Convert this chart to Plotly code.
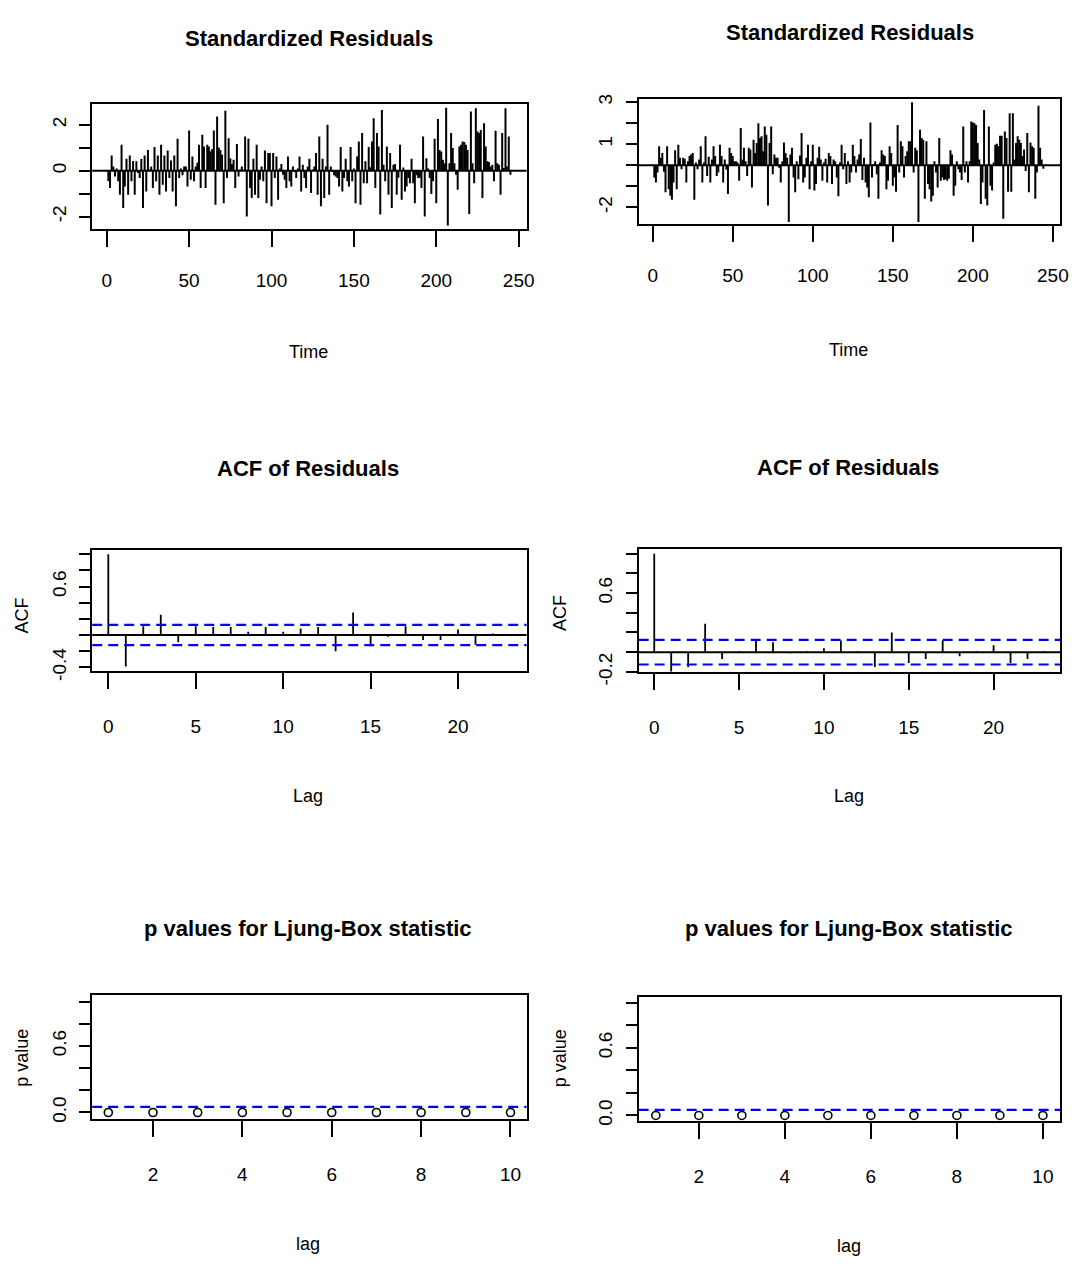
import plotly.graph_objects as go

# ---- data -------------------------------------------------------------
# standardized residuals, model A (left column)
resid_a = [
    -0.45, -0.75, 0.67, 0.19, -0.25, 0.10, -0.46, -1.04, 1.13, -1.62,
    -0.68, 0.52, -1.04, 0.67, -0.46, 0.43, -1.04, 0.41, -0.10, -0.32,
    0.51, -1.62, 0.67, -0.90, 0.91, 0.05, 0.19, -0.75, 1.03, -0.46,
    0.67, -1.04, 1.13, -0.61, 0.67, -0.90, 0.88, -0.32, 0.45, -0.90,
    0.67, -1.55, 1.39, -0.32, 0.10, -0.20, 0.19, 0.19, -0.68, 1.75,
    -0.39, 0.62, -0.46, 0.19, 0.35, 1.13, -0.75, 1.57, 1.06, -0.75,
    1.13, 1.06, 0.85, 0.95, 1.75, -1.48, 2.36, 1.01, 0.90, 0.70,
    -1.41, 2.62, -0.32, 1.42, 0.55, 0.30, 0.48, -0.75, 1.17, -0.25,
    0.05, 0.19, 0.04, 1.49, -1.99,
    1.39, -0.75, -1.19, 0.52, -1.04, 1.13, -1.19, -0.39, 0.19, -0.46,
    0.88, -1.41, 0.77, 0.77, -1.55, 0.77, -0.32, 0.62, -1.26, 0.10,
    0.30, -0.17, -0.39, -0.75, 0.62, -0.46, -0.68, 0.19, -0.05, -0.32,
    0.10, 0.62, -0.90, 0.26, -0.32, -0.75, 0.19, 0.52, -0.97, 0.05,
    0.19, 0.77, -1.04, 1.49, -1.55, 0.52, -1.19, 0.19, 2.00, -1.04,
    0.19, -0.05, -0.20, -0.25, -0.32, -0.68, 1.03, -0.90, -0.32, 0.52,
    -0.46, -0.68, 1.03, -0.46, 0.10, -1.41, 0.62, 1.28, -1.48, 1.64,
    -0.54, 0.41, -0.54, 1.03, 0.15, 1.28, 2.29, -0.75, 1.64, 1.06,
    -1.91, 2.65, 0.26, -0.46, 1.06, -1.04,
    0.77, -1.62, 0.26, 0.29, -1.04, -0.30, 1.13, -1.26, 0.14, -0.90,
    -0.68, -0.32, -0.54, 0.52, -0.54, -1.41, -0.20, -0.32, -0.30, -0.75,
    1.49, -1.99, 0.55, 0.10, -0.32, -1.01, -0.46, 1.39, -1.41, 2.26,
    0.91, 0.84, 0.48, 0.33, 2.75, -2.38, 0.33, 1.64, 0.99, 0.33,
    -0.17, -0.83, 1.06, 1.13, 1.28, 1.25, 1.13, 0.91, -1.88, 2.58,
    0.33, -0.54, 2.72, 1.71, 1.64, 1.78, -1.19, 2.07, 1.06, 0.41,
    0.38, 0.19, 0.26, -0.46, 1.74, 0.33, 0.26, -1.04, 1.64, 0.12,
    2.72, 0.19, 1.49, -0.17,
]

# standardized residuals, model B (right column)
resid_b = [
    -0.58, -0.81, -0.34, 0.91, 0.36, 0.59, -0.31, -1.28, 0.91, -1.13,
    -1.44, -1.63, -0.81, 0.72, -1.13, 0.98, 0.36, -0.19, 0.36, 0.31,
    -0.81, 0.20, 0.44, 0.52, 0.59, -1.63, 0.13, -0.19, 0.28, 0.91,
    -0.81, 0.13, 1.38, -0.50, 0.41, -0.81, 0.28, 0.91, 0.44, -0.50,
    -0.34, 0.98, 0.44, -0.81, 0.28, -0.20, -1.36, 0.83, 0.59, 0.44,
    0.20, 0.20, 0.13, -0.73, 1.77, 0.28, 0.83, 0.20, -0.50, 0.83,
    0.75, -1.05, 1.22, 0.59, 1.06, 2.00, 1.30, 1.38, 0.67, 1.84,
    1.45, -1.91, 1.06, 1.84, -0.42, 0.52, 0.36, 0.36, -0.11, -0.81,
    0.20, 1.09, 0.59, 0.36, -2.69, 0.52, 0.83, -0.58, -1.28, 0.20,
    -0.66, 0.47, 1.53, -0.81, -0.58, 0.36, 0.98, -1.13, 0.20, 0.98,
    -1.20, -0.89, 0.36, 0.88, 0.28, -0.73, 0.13, 0.31, -0.81, 0.59,
    0.44, -0.89, 0.28, 0.20, -0.58, -1.47, 0.13, 0.98, -0.19, 0.59,
    -0.89, 0.20, -0.81, -0.34, 0.98, 0.44, -0.34, 0.28, 0.52, 1.25,
    -0.69, 0.36, -0.81, -1.05, -1.52, 2.03, -0.58, 0.05, 0.20, -0.42,
    -1.59, 0.13, 0.72, 0.52, 0.44, -1.13, -0.73, 0.91, 0.59, -0.97,
    -0.58, -1.25, 1.92, -0.34, 1.14, 0.91, -0.58, 0.44, 0.67, 1.14,
    1.14, 3.00, -0.34, 0.83,
    0.72, -2.69, 1.69, 1.30, 1.22, -1.59, 1.14, -0.89, -1.13, -1.72,
    -1.44, 0.20, -0.34, -1.05, 1.30, -0.73, -0.58, -0.69, -0.66, -0.73,
    -0.63, 0.72, 0.52, -1.44, -0.97, 0.20, -0.19, -0.34, -0.69, 1.84,
    -0.34, 0.20, -0.81, 0.20, 2.08, 2.03, 2.00, 1.92, 1.06,
    0.28, -1.83, -0.81, 2.63, -1.59, -1.91, 1.84, -0.97, -1.20, 0.13,
    0.98, 1.03, 0.91, 1.41, 1.41, -2.53, 1.61, 1.30, -1.25, 2.47,
    -1.25, 2.47, 0.28, 1.06, 1.38, 1.22, 1.06, 0.44, 0.75, -0.27,
    1.53, -1.28, 1.09, 0.91, 0.83, -1.59, -0.34, 2.83, 0.83, 0.28,
    -0.16,
]

# residual autocorrelations, lags 0..23
acf_lags = list(range(24))
acf_a = [1.00, -0.39, 0.11, 0.25, -0.09, 0.11, 0.10, 0.10, 0.04, 0.10,
         0.04, 0.08, 0.10, -0.20, 0.28, -0.14, -0.02, 0.11, -0.06, -0.06,
         0.07, -0.12, 0.02, -0.01]
acf_b = [1.00, -0.195, -0.15, 0.29, -0.07, 0.01, 0.13, 0.10, -0.01, 0.01,
         0.04, 0.12, 0.01, -0.15, 0.20, -0.11, -0.07, 0.12, -0.04, 0.01,
         0.07, -0.11, -0.07, 0.01]
acf_ci_a = 0.125
acf_ci_b = 0.125

# Ljung-Box p values, lags 1..10
lb_lags = list(range(1, 11))
lb_p_a = [0.000, 0.000, 0.000, 0.000, 0.000, 0.000, 0.000, 0.000, 0.000, 0.000]
lb_p_b = [0.000, 0.000, 0.000, 0.000, 0.000, 0.000, 0.000, 0.000, 0.000, 0.000]
lb_level = 0.05

# axis ticks
time_ticks = [0, 50, 100, 150, 200, 250]
resid_a_ticks = [-2, -1, 0, 1, 2]
resid_a_text = ["-2", "", "0", "", "2"]
resid_b_ticks = [-2, -1, 0, 1, 2, 3]
resid_b_text = ["-2", "", "", "1", "", "3"]
lag_ticks = [0, 5, 10, 15, 20]
acf_a_ticks = [-0.4, -0.2, 0.0, 0.2, 0.4, 0.6, 0.8, 1.0]
acf_a_text = ["-0.4", "", "", "", "", "0.6", "", ""]
acf_b_ticks = [-0.2, 0.0, 0.2, 0.4, 0.6, 0.8, 1.0]
acf_b_text = ["-0.2", "", "", "", "0.6", "", ""]
lb_x_ticks = [2, 4, 6, 8, 10]
p_ticks = [0.0, 0.2, 0.4, 0.6, 0.8, 1.0]
p_text = ["0.0", "", "", "0.6", "", ""]

# ---- styling ----------------------------------------------------------
FONT = "Liberation Sans, Arial, sans-serif"
W, H = 1080, 1274
BLUE = "#0000ff"
TICK_SIZE = 19
LAB_SIZE = 18
TITLE_SIZE = 22


def ax_id(letter, i):
    """Plotly axis id: 'x', 'x2', ... / 'y', 'y2', ..."""
    return letter if i == 1 else f"{letter}{i}"


def spikes(xs, ys):
    """Vertical lines from 0 to each value (R's type='h')."""
    px, py = [], []
    for x, y in zip(xs, ys):
        px += [x, x, None]
        py += [0, y, None]
    return px, py


def xaxis(domain, i, rng, vals, standoff):
    return dict(domain=domain, anchor=ax_id("y", i), range=rng, tickvals=vals,
                showline=True, mirror=True, linecolor="black", linewidth=2,
                ticks="outside", ticklen=16, tickwidth=1.6, tickcolor="black",
                showgrid=False, zeroline=False, ticklabelstandoff=standoff,
                tickfont=dict(family=FONT, size=TICK_SIZE, color="black"))


def yaxis(domain, i, rng, vals, text):
    return dict(domain=domain, anchor=ax_id("x", i), range=rng, tickvals=vals,
                ticktext=text, tickangle=-90,
                showline=True, mirror=True, linecolor="black", linewidth=2,
                ticks="outside", ticklen=11, tickwidth=1.6, tickcolor="black",
                showgrid=False, zeroline=False, ticklabelstandoff=6,
                tickfont=dict(family=FONT, size=TICK_SIZE, color="black"))


fig = go.Figure()

# residual spikes
t_a = list(range(1, len(resid_a) + 1))
t_b = list(range(1, len(resid_b) + 1))
for xs, ys, i in [(t_a, resid_a, 1), (t_b, resid_b, 2)]:
    px, py = spikes(xs, ys)
    fig.add_trace(go.Scatter(x=px, y=py, mode="lines", xaxis=ax_id("x", i), yaxis=ax_id("y", i),
                             line=dict(color="black", width=2), hoverinfo="skip"))

# ACF spikes
for ys, i in [(acf_a, 3), (acf_b, 4)]:
    px, py = spikes(acf_lags, ys)
    fig.add_trace(go.Scatter(x=px, y=py, mode="lines", xaxis=ax_id("x", i), yaxis=ax_id("y", i),
                             line=dict(color="black", width=1.8), hoverinfo="skip"))

# Ljung-Box p values
for ys, i in [(lb_p_a, 5), (lb_p_b, 6)]:
    fig.add_trace(go.Scatter(x=lb_lags, y=ys, mode="markers", xaxis=ax_id("x", i), yaxis=ax_id("y", i),
                             marker=dict(symbol="circle-open", size=8, color="black",
                                         line=dict(width=1.6)),
                             cliponaxis=False, hoverinfo="skip"))

# reference lines
shapes = []


def hline(i, y, color="black", dash="solid", width=2):
    shapes.append(dict(type="line", xref=ax_id("x", i) + " domain", yref=ax_id("y", i),
                       x0=0, x1=1, y0=y, y1=y,
                       line=dict(color=color, width=width, dash=dash)))


for i in (1, 2, 3, 4):
    hline(i, 0)
for i, c in [(3, acf_ci_a), (4, acf_ci_b)]:
    hline(i, c, BLUE, "10px,6px", 2.2)
    hline(i, -c, BLUE, "10px,6px", 2.2)
hline(5, lb_level, BLUE, "10px,6px", 2.2)
hline(6, lb_level, BLUE, "10px,6px", 2.2)

# panel geometry (paper fractions)
XL = [93 / W, 531 / W]
XR = [644 / W, 1069 / W]


def ydom(top, bottom):
    return [1 - bottom / H, 1 - top / H]


layout = dict(
    width=W, height=H, margin=dict(l=0, r=0, t=0, b=0),
    paper_bgcolor="white", plot_bgcolor="white", showlegend=False,
    shapes=shapes,
    xaxis=xaxis(XL, 1, [-8.8, 254.8], time_ticks, 18),
    yaxis=yaxis(ydom(100, 227), 1, [-2.52, 2.93], resid_a_ticks, resid_a_text),
    xaxis2=xaxis(XR, 2, [-8.8, 254.5], time_ticks, 18),
    yaxis2=yaxis(ydom(95, 222), 2, [-2.77, 3.17], resid_b_ticks, resid_b_text),
    xaxis3=xaxis(XL, 3, [-0.92, 23.92], lag_ticks, 21),
    yaxis3=yaxis(ydom(553, 676), 3, [-0.444, 1.056], acf_a_ticks, acf_a_text),
    xaxis4=xaxis(XR, 4, [-0.92, 23.92], lag_ticks, 21),
    yaxis4=yaxis(ydom(552, 677), 4, [-0.2, 1.05], acf_b_ticks, acf_b_text),
    xaxis5=xaxis(XL, 5, [0.64, 10.36], lb_x_ticks, 21),
    yaxis5=yaxis(ydom(1005, 1131), 5, [-0.06, 1.06], p_ticks, p_text),
    xaxis6=xaxis(XR, 6, [0.6, 10.4], lb_x_ticks, 21),
    yaxis6=yaxis(ydom(1007, 1133), 6, [-0.05, 1.05], p_ticks, p_text),
)

# titles and axis labels
ann = []


def label(text, x, y, size=LAB_SIZE, bold=False, angle=0):
    ann.append(dict(text=f"<b>{text}</b>" if bold else text,
                    x=x / W, y=1 - y / H, xref="paper", yref="paper",
                    xanchor="center", yanchor="middle", showarrow=False,
                    textangle=angle,
                    font=dict(family=FONT, size=size, color="black")))


label("Standardized Residuals", 312, 34, TITLE_SIZE, True)
label("Standardized Residuals", 857, 28, TITLE_SIZE, True)
label("ACF of Residuals", 311, 471, TITLE_SIZE, True)
label("ACF of Residuals", 855, 469, TITLE_SIZE, True)
label("p values for Ljung-Box statistic", 311, 937, TITLE_SIZE, True)
label("p values for Ljung-Box statistic", 856, 937, TITLE_SIZE, True)
label("Time", 311, 352)
label("Time", 856, 350)
label("Lag", 311, 803)
label("Lag", 856, 803)
label("lag", 311, 1258)
label("lag", 856, 1260)
label("ACF", 22, 620, angle=-90)
label("ACF", 565, 617, angle=-90)
label("p value", 22, 1069, angle=-90)
label("p value", 565, 1069, angle=-90)

layout["annotations"] = ann
fig.update_layout(**layout)

fig.write_html("out.html")
